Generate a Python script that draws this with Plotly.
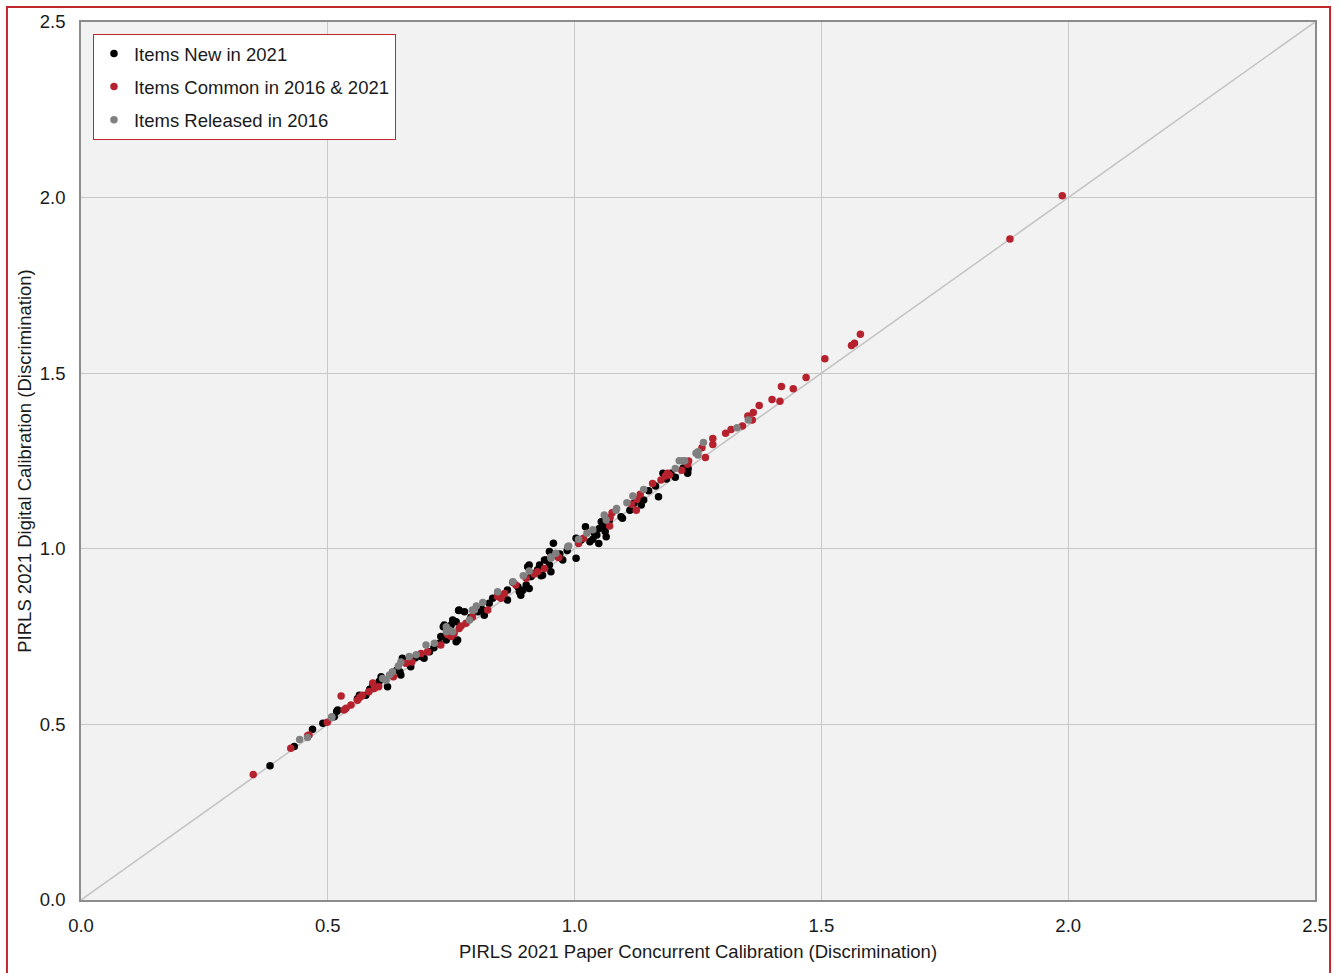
import plotly.graph_objects as go

# Items New in 2021 (paper x, digital y)
new_x = [0.383,0.432,0.469,0.490,0.513,0.518,0.520,0.560,0.564,0.577,0.585,0.591,0.604,0.608,0.621,0.640,0.646,0.648,0.651,0.668,0.677,0.689,0.695,0.706,0.715,0.726,0.729,0.734,0.736,0.740,0.745,0.750,0.753,0.760,0.760,0.763,0.765,0.766,0.777,0.790,0.804,0.812,0.817,0.827,0.834,0.845,0.864,0.864,0.875,0.885,0.888,0.891,0.895,0.902,0.905,0.908,0.908,0.912,0.918,0.925,0.929,0.932,0.935,0.939,0.942,0.949,0.949,0.952,0.957,0.970,0.976,0.985,1.003,1.003,1.013,1.022,1.031,1.037,1.040,1.045,1.049,1.050,1.054,1.060,1.062,1.064,1.070,1.094,1.097,1.112,1.120,1.135,1.140,1.150,1.164,1.170,1.179,1.186,1.195,1.204,1.220,1.229,1.229,1.230]
new_y = [0.382,0.437,0.486,0.503,0.522,0.537,0.541,0.573,0.583,0.583,0.600,0.612,0.622,0.636,0.607,0.655,0.650,0.641,0.688,0.664,0.690,0.693,0.688,0.707,0.718,0.731,0.750,0.778,0.783,0.740,0.757,0.783,0.797,0.792,0.735,0.740,0.824,0.826,0.821,0.805,0.821,0.828,0.811,0.845,0.859,0.870,0.883,0.854,0.905,0.892,0.878,0.868,0.882,0.897,0.949,0.887,0.954,0.921,0.930,0.940,0.954,0.923,0.925,0.968,0.968,0.992,0.954,0.935,1.016,0.985,0.968,0.995,0.973,1.030,1.025,1.063,1.020,1.027,1.045,1.039,1.015,1.058,1.077,1.063,1.049,1.034,1.080,1.091,1.087,1.110,1.130,1.125,1.139,1.165,1.179,1.148,1.215,1.199,1.215,1.204,1.230,1.220,1.215,1.229]

# Items Common in 2016 & 2021
common_x = [0.349,0.425,0.459,0.462,0.499,0.527,0.533,0.537,0.547,0.560,0.565,0.570,0.583,0.591,0.594,0.603,0.633,0.658,0.670,0.689,0.702,0.729,0.743,0.750,0.756,0.766,0.770,0.780,0.793,0.824,0.844,0.851,0.858,0.881,0.902,0.918,0.925,0.939,0.966,0.968,1.008,1.018,1.071,1.072,1.076,1.115,1.125,1.126,1.133,1.158,1.175,1.184,1.188,1.192,1.217,1.229,1.231,1.258,1.265,1.280,1.280,1.306,1.317,1.340,1.351,1.360,1.362,1.374,1.400,1.416,1.419,1.443,1.469,1.507,1.561,1.567,1.579,1.882,1.988]
common_y = [0.357,0.432,0.468,0.470,0.506,0.581,0.541,0.546,0.555,0.569,0.577,0.583,0.593,0.618,0.602,0.607,0.636,0.674,0.678,0.702,0.707,0.726,0.755,0.750,0.759,0.773,0.780,0.788,0.806,0.826,0.864,0.859,0.873,0.897,0.916,0.928,0.935,0.944,0.977,0.975,1.015,1.030,1.065,1.089,1.103,1.127,1.110,1.141,1.155,1.186,1.196,1.207,1.215,1.210,1.224,1.241,1.250,1.288,1.260,1.297,1.314,1.329,1.340,1.350,1.378,1.367,1.388,1.408,1.425,1.420,1.462,1.456,1.488,1.541,1.579,1.585,1.611,1.882,2.005]

# Items Released in 2016
released_x = [0.443,0.459,0.508,0.508,0.611,0.618,0.625,0.631,0.643,0.648,0.665,0.679,0.699,0.716,0.740,0.740,0.746,0.753,0.787,0.793,0.797,0.801,0.814,0.844,0.875,0.896,0.908,0.952,0.952,0.962,0.986,0.988,1.008,1.025,1.037,1.060,1.064,1.084,1.085,1.106,1.118,1.140,1.204,1.212,1.219,1.223,1.246,1.250,1.250,1.261,1.329,1.352]
released_y = [0.457,0.463,0.520,0.522,0.631,0.626,0.641,0.650,0.666,0.678,0.693,0.698,0.726,0.731,0.764,0.778,0.769,0.764,0.797,0.826,0.826,0.837,0.847,0.878,0.906,0.923,0.937,0.973,0.977,0.987,1.006,1.008,1.027,1.044,1.054,1.096,1.082,1.110,1.115,1.131,1.150,1.169,1.229,1.251,1.251,1.251,1.272,1.267,1.276,1.303,1.345,1.367]

diag = [0.0, 2.5]
ticks = [0.0, 0.5, 1.0, 1.5, 2.0, 2.5]

FONT = "Liberation Sans, Arial, sans-serif"
FS = 18.5
RED_BORDER = "#c0272d"

fig = go.Figure()
fig.add_trace(go.Scatter(x=diag, y=diag, mode="lines", line=dict(color="#c4c4c4", width=1.5),
                         showlegend=False, hoverinfo="skip"))
series = [
    ("Items New in 2021", new_x, new_y, "#000000"),
    ("Items Common in 2016 & 2021", common_x, common_y, "#b5222e"),
    ("Items Released in 2016", released_x, released_y, "#808080"),
]
for i, (name, xs, ys, col) in enumerate(series):
    fig.add_trace(go.Scatter(x=xs, y=ys, mode="markers", name=name, legendgroup=f"g{i}",
                             marker=dict(color=col, size=7.5, line=dict(width=0))))

axis_common = dict(range=[0, 2.5], tickvals=ticks, tickformat=".1f", showgrid=True,
                   gridcolor="#c8c8c8", gridwidth=1.2, zeroline=False, showline=True,
                   linecolor="#8c8c8c", linewidth=1.5, mirror=True, ticks="",
                   tickfont=dict(size=FS, color="#1a1a1a", family=FONT))

fig.update_layout(
    width=1340, height=973,
    margin=dict(l=81, r=25, t=22, b=73),
    paper_bgcolor="white", plot_bgcolor="#f2f2f2",
    font=dict(family=FONT, size=FS, color="#1a1a1a"),
    xaxis=dict(**axis_common, ticklabelstandoff=8,
               title=dict(text="PIRLS 2021 Paper Concurrent Calibration (Discrimination)",
                          font=dict(size=FS), standoff=10)),
    yaxis=dict(**axis_common, ticklabelstandoff=10,
               title=dict(text="PIRLS 2021 Digital Calibration (Discrimination)",
                          font=dict(size=FS), standoff=3)),
    legend=dict(x=0.0097, y=0.9863, xanchor="left", yanchor="top", bgcolor="white",
                bordercolor=RED_BORDER, borderwidth=1, font=dict(size=FS, color="#1a1a1a"),
                tracegroupgap=6, itemwidth=30),
    showlegend=True,
    shapes=[dict(type="rect", xref="paper", yref="paper",
                 x0=-0.0600, x1=1.0122, y0=-0.09, y1=1.0171,
                 line=dict(color=RED_BORDER, width=2), fillcolor="rgba(0,0,0,0)", layer="above")],
)

fig.write_html("out.html")
